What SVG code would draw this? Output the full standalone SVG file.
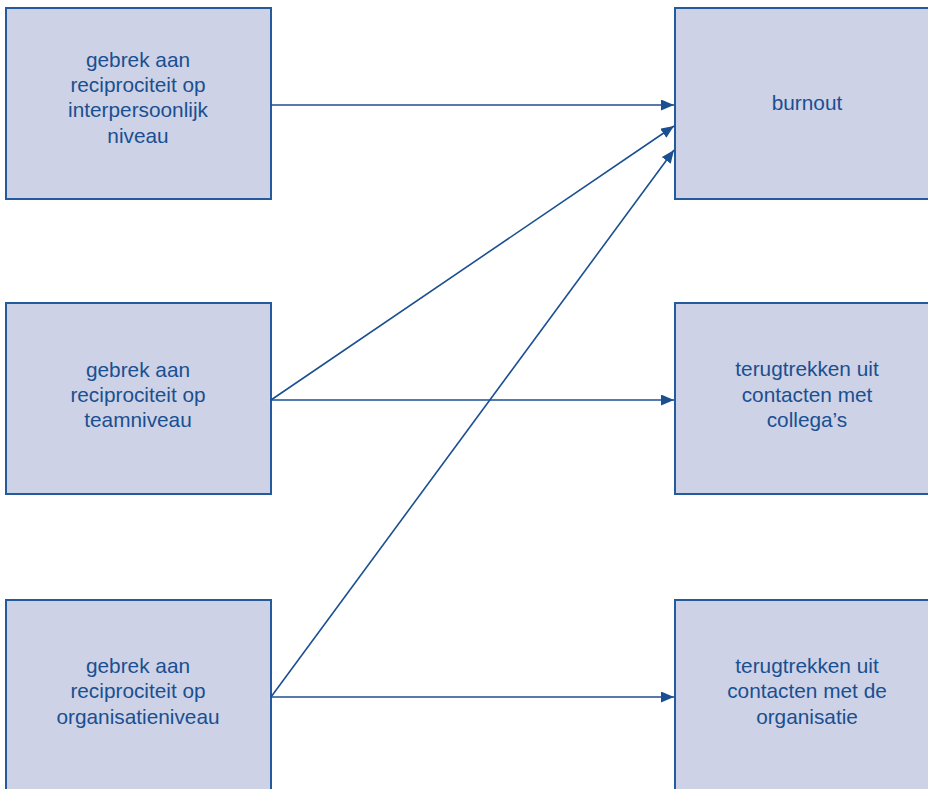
<svg xmlns="http://www.w3.org/2000/svg" width="928" height="789" viewBox="0 0 928 789">
<style>
.box{fill:#cdd2e6;stroke:#245b9c;stroke-width:2}
.t{font-family:"Liberation Sans",Arial,sans-serif;font-size:20.8px;fill:#1a4f91;text-anchor:middle}
.c{stroke:#1a4f91;stroke-width:1.6;fill:none;marker-end:url(#ah)}
</style>
<defs>
<marker id="ah" markerWidth="13" markerHeight="11" refX="13" refY="5.5" orient="auto" markerUnits="userSpaceOnUse">
<path d="M0,0 L13,5.5 L0,11 Z" fill="#1a4f91"/>
</marker>
</defs>
<rect width="928" height="789" fill="#ffffff"/>
<g id="n1">
<rect class="box" x="6" y="8" width="265" height="191"/>
<text class="t"><tspan x="138" y="67">gebrek aan</tspan><tspan x="138" y="92">reciprociteit op</tspan><tspan x="138" y="117">interpersoonlijk</tspan><tspan x="138" y="143">niveau</tspan></text>
</g>
<g id="n2">
<rect class="box" x="6" y="303" width="265" height="191"/>
<text class="t"><tspan x="138" y="377">gebrek aan</tspan><tspan x="138" y="402">reciprociteit op</tspan><tspan x="138" y="427">teamniveau</tspan></text>
</g>
<g id="n3">
<rect class="box" x="6" y="600" width="265" height="200"/>
<text class="t"><tspan x="138" y="673">gebrek aan</tspan><tspan x="138" y="698">reciprociteit op</tspan><tspan x="138" y="724">organisatieniveau</tspan></text>
</g>
<g id="n4">
<rect class="box" x="675" y="8" width="265" height="191"/>
<text class="t"><tspan x="807" y="110">burnout</tspan></text>
</g>
<g id="n5">
<rect class="box" x="675" y="303" width="265" height="191"/>
<text class="t"><tspan x="807" y="376">terugtrekken uit</tspan><tspan x="807" y="402">contacten met</tspan><tspan x="807" y="427">collega’s</tspan></text>
</g>
<g id="n6">
<rect class="box" x="675" y="600" width="265" height="200"/>
<text class="t"><tspan x="807" y="673">terugtrekken uit</tspan><tspan x="807" y="698">contacten met de</tspan><tspan x="807" y="724">organisatie</tspan></text>
</g>
<g id="connectors">
<line class="c" x1="271" y1="105" x2="674" y2="105"/>
<line class="c" x1="271" y1="400" x2="674" y2="126"/>
<line class="c" x1="271" y1="400" x2="674" y2="400"/>
<line class="c" x1="271" y1="697" x2="674" y2="150"/>
<line class="c" x1="271" y1="697" x2="674" y2="697"/>
</g>
</svg>
